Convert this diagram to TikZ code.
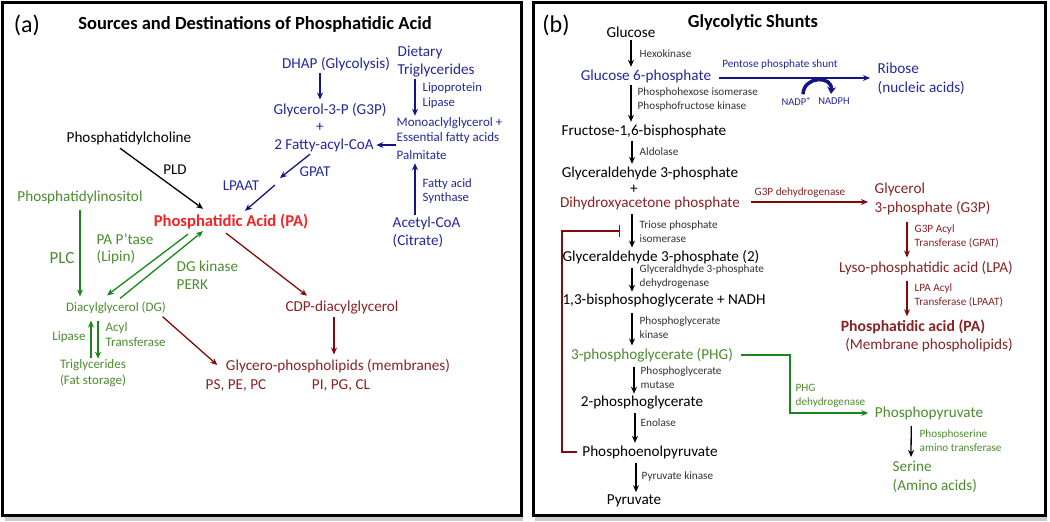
\documentclass[tikz,border=0pt]{standalone}
\usepackage{fontspec}
\setmainfont{Carlito}
\usetikzlibrary{arrows.meta,calc}
\definecolor{tblue}{RGB}{35,40,155}
\definecolor{ablue}{RGB}{20,20,135}
\definecolor{tgreen}{RGB}{75,140,45}
\definecolor{agreen}{RGB}{25,135,25}
\definecolor{tred}{RGB}{135,35,35}
\definecolor{ared}{RGB}{130,10,10}
\definecolor{pared}{RGB}{245,35,35}
\definecolor{sgray}{RGB}{50,50,50}
\tikzset{
  lab/.style={inner sep=0.5pt, font=\fontsize{15.2}{18}\selectfont, align=left},
  big/.style={inner sep=0.5pt, font=\fontsize{15.2}{19}\selectfont, align=left},
  mid/.style={inner sep=0.5pt, font=\fontsize{13}{15}\selectfont, align=left},
  sm/.style={inner sep=0.5pt, font=\fontsize{11.2}{14}\selectfont, align=left, text=sgray},
  arr/.style={-{Stealth[length=7pt,width=6pt]}, line width=1.3pt},
  panel/.style={line width=3pt}
}
\begin{document}
\begin{tikzpicture}[x=1pt,y=-1pt]
\useasboundingbox (0,0) rectangle (1050,522);
% shadows and frames
\fill[black!20] (5,517) rectangle (523,521);
\fill[black!20] (535,517) rectangle (1047,521);
\draw[panel] (2.5,2.5) rectangle (521,515.5);
\draw[panel] (533,2.5) rectangle (1045,515.5);

%%%%%%%% Panel (a)
\node[inner sep=0pt, font=\fontsize{24}{26}\selectfont] (la) at (27,25) {(a)};
\node[inner sep=0pt, font=\fontsize{18.5}{20}\selectfont\bfseries] (ta) at (255,24) {Sources and Destinations of Phosphatidic Acid};

\node[lab, text=tblue] (dhap) at (336,64) {DHAP (Glycolysis)};
\node[lab, text=tblue, anchor=west] (diet) at (397,62) {Dietary\\Triglycerides};
\node[lab, text=tblue] (g3p) at (330,110) {Glycerol-3-P (G3P)};
\node[lab, text=tblue] (plus1) at (320,127) {+};
\node[lab, text=tblue] (fac) at (324,145) {2 Fatty-acyl-CoA};
\node[mid, text=tblue, anchor=west, font=\fontsize{12.7}{15}\selectfont] (lpl) at (422,95.5) {Lipoprotein\\Lipase};
\node[mid, text=tblue, anchor=west] (mono) at (396,130.5) {Monoaclylglycerol +\\Essential fatty acids};
\node[mid, text=tblue, anchor=west] (palm) at (396,155) {Palmitate};
\node[mid, text=tblue, anchor=west, font=\fontsize{12.7}{14.5}\selectfont] (fas) at (422,191) {Fatty acid\\Synthase};
\node[lab, text=tblue, anchor=west] (acoa) at (392,232) {Acetyl-CoA\\(Citrate)};
\node[lab, text=tblue, font=\fontsize{15}{16}\selectfont] (gpat) at (315,172) {GPAT};
\node[lab, text=tblue, font=\fontsize{15}{16}\selectfont] (lpaat) at (241,186) {LPAAT};

\node[lab] (pc) at (129,138) {Phosphatidylcholine};
\node[lab, font=\fontsize{15}{16}\selectfont] (pld) at (175,170) {PLD};
\node[inner sep=0.5pt, text=pared, font=\fontsize{16.6}{18}\selectfont\bfseries] (pa) at (231,222) {Phosphatidic Acid (PA)};

\node[lab, text=tgreen] (pi) at (80,197) {Phosphatidylinositol};
\node[lab, text=tgreen, font=\fontsize{17}{18}\selectfont] (plc) at (62,258) {PLC};
\node[lab, text=tgreen, anchor=west, font=\fontsize{15.2}{17}\selectfont] (ptase) at (96,248.5) {PA P’tase\\(Lipin)};
\node[lab, text=tgreen, anchor=west, font=\fontsize{15.2}{18}\selectfont] (dgk) at (176,275) {DG kinase\\PERK};
\node[mid, text=tgreen] (dg) at (116,308) {Diacylglycerol (DG)};
\node[mid, text=tgreen] (lip) at (69,337) {Lipase};
\node[mid, text=tgreen, anchor=west] (acyl) at (105,334.5) {Acyl\\Transferase};
\node[mid, text=tgreen, align=center, font=\fontsize{13}{16}\selectfont] (tg) at (93,373) {Triglycerides\\(Fat storage)};

\node[lab, text=tred] (cdp) at (342,308) {CDP-diacylglycerol};
\node[lab, text=tred] (gpl) at (338,366) {Glycero-phospholipids (membranes)};
\node[lab, text=tred] (pspe) at (236,386) {PS, PE, PC};
\node[lab, text=tred] (pipg) at (341,386) {PI, PG, CL};

% arrows panel (a)
\draw[arr, ablue] ($(dhap.south -| plus1)+(0,2)$) -- ($(g3p.north -| plus1)+(0,-3)$);
\draw[arr, ablue] ($(diet.south west)+(18,1)$) -- ($(mono.north west)+(19,-1)$);
\draw[arr, ablue] (mono.west |- fac) -- ($(fac.east)+(2,0)$);
\draw[arr, ablue] ($(acoa.north west)+(23,-1)$) -- ($(palm.south west)+(19,3)$);
\coordinate (gp1) at (280,178);
\coordinate (gp2) at (275,185);
\draw[arr, ablue] ($(fac.south)+(-14,2)$) -- (gp1);
\draw[arr, ablue] (gp2) -- ($(pa.north)+(14,-3)$);
\draw[arr, black] ($(pc.south)+(-9,3)$) -- ($(pa.north west)+(50,-5)$);
\draw[arr, agreen] ($(pi.south)+(0,6)$) -- ($(dg.north -| pi.south)+(0,-5)$);
\draw[arr, agreen] ($(pa.south)+(-43,4)$) -- ($(dg.north)+(-9,-6)$);
\draw[arr, agreen] ($(dg.north)+(4,-3)$) -- ($(pa.south)+(-28,1)$);
\draw[arr, ared] ($(pa.south)+(-5,3)$) -- ($(cdp.north)+(-35,-5)$);
\draw[arr, ared] ($(cdp.south)+(-8,2)$) -- ($(gpl.north)+(-4,-4)$);
\draw[arr, ared] ($(dg.south east)+(-4,2)$) -- ($(gpl.west)+(-8,-1)$);
\draw[arr, agreen] ($(tg.north)+(-2,-1)$) -- ($(tg.north |- dg.south)+(-2,6)$);
\draw[arr, agreen] ($(tg.north |- dg.south)+(5,6)$) -- ($(tg.north)+(5,0)$);

%%%%%%%% Panel (b)
\node[inner sep=0pt, font=\fontsize{24}{26}\selectfont] (lb) at (556,25) {(b)};
\node[inner sep=0pt, font=\fontsize{18.4}{20}\selectfont\bfseries] (tb) at (753,22) {Glycolytic Shunts};

\node[big] (glu) at (631,32) {Glucose};
\node[big, text=tblue] (g6p) at (646,76) {Glucose 6-phosphate};
\node[big] (fbp) at (644,131) {Fructose-1,6-bisphosphate};
\node[big] (gap) at (650,173) {Glyceraldehyde 3-phosphate};
\node[big] (plus2) at (634,189) {+};
\node[big, text=tred] (dhapb) at (650,203) {Dihydroxyacetone phosphate};
\node[big] (gap2) at (661,257) {Glyceraldehyde 3-phosphate (2)};
\node[big] (bpg) at (664,301) {1,3-bisphosphoglycerate + NADH};
\node[big, text=tgreen] (pg3) at (652,355) {3-phosphoglycerate (PHG)};
\node[big] (pg2) at (642,403) {2-phosphoglycerate};
\node[big] (pep) at (650,452) {Phosphoenolpyruvate};
\node[big] (pyr) at (634,501) {Pyruvate};

\node[big, text=tblue, anchor=west] (rib) at (877,78.5) {Ribose\\(nucleic acids)};
\node[big, text=tred, anchor=west] (glyc) at (874,199) {Glycerol\\3-phosphate (G3P)};
\node[big, text=tred] (lpa) at (926,268) {Lyso-phosphatidic acid (LPA)};
\node[big, text=tred, font=\fontsize{15.7}{19}\selectfont\bfseries] (pab) at (913,327) {Phosphatidic acid (PA)};
\node[big, text=tred] (memb) at (929,345) {(Membrane phospholipids)};
\node[big, text=tgreen] (ppyr) at (929,413) {Phosphopyruvate};
\node[big, text=tgreen, anchor=west] (ser) at (892,476.5) {Serine\\(Amino acids)};

\node[sm, anchor=west] (hexo) at (639,54) {Hexokinase};
\node[sm, anchor=west] (phi) at (637,99.5) {Phosphohexose isomerase\\Phosphofructose kinase};
\node[sm, anchor=west] (aldo) at (639,152) {Aldolase};
\node[sm, anchor=west] (tpi) at (639,231.5) {Triose phosphate\\isomerase};
\node[sm, anchor=west] (gapdh) at (639,276.5) {Glyceraldhyde 3-phosphate\\dehydrogenase};
\node[sm, anchor=west] (pgk) at (639,328) {Phosphoglycerate\\kinase};
\node[sm, anchor=west] (pgm) at (640,377.5) {Phosphoglycerate\\mutase};
\node[sm, anchor=west] (eno) at (640,423) {Enolase};
\node[sm, anchor=west] (pk) at (641,477) {Pyruvate kinase};
\node[sm, text=tblue] (pps) at (780,65) {Pentose phosphate shunt};
\node[sm, text=tblue, font=\fontsize{10.5}{12}\selectfont] (nadp) at (796,101) {NADP\textsuperscript{+}};
\node[sm, text=tblue, font=\fontsize{10.5}{12}\selectfont] (nadph) at (834,101) {NADPH};
\node[sm, text=tred] (g3pdh) at (800,193) {G3P dehydrogenase};
\node[sm, text=tred, anchor=west] (gpatb) at (914,236.5) {G3P Acyl\\Transferase (GPAT)};
\node[sm, text=tred, anchor=west] (lpaatb) at (914,295) {LPA Acyl\\Transferase (LPAAT)};
\node[sm, text=tgreen, anchor=west] (phgdh) at (795,396) {PHG\\dehydrogenase};
\node[sm, text=tgreen, anchor=west] (psat) at (919,441) {Phosphoserine\\amino transferase};

% arrows panel (b)
\draw[arr] ($(glu.south)+(0,2)$) -- ($(glu.south |- g6p.north)+(0,-2)$);
\draw[arr] ($(glu.south |- g6p.south)+(0,2)$) -- ($(glu.south |- fbp.north)+(0,-2)$);
\draw[arr] ($(glu.south |- fbp.south)+(1,3)$) -- ($(glu.south |- gap.north)+(1,-2)$);
\draw[arr] ($(glu.south |- dhapb.south)+(1,4)$) -- ($(glu.south |- gap2.north)+(1,-2)$);
\draw[arr] ($(glu.south |- gap2.south)+(1,4)$) -- ($(glu.south |- bpg.north)+(1,-2)$);
\draw[arr] ($(glu.south |- bpg.south)+(1,5)$) -- ($(glu.south |- pg3.north)+(1,-2)$);
\draw[arr] ($(glu.south |- pg3.south)+(3,4)$) -- ($(glu.south |- pg2.north)+(3,-2)$);
\draw[arr] ($(glu.south |- pg2.south)+(4,3)$) -- ($(glu.south |- pep.north)+(4,-2)$);
\draw[arr] ($(glu.south |- pep.south)+(5,4)$) -- ($(glu.south |- pyr.north)+(5,-2)$);

\coordinate (s1) at ($(g6p.east)+(7,2)$);
\draw[arr, ablue, line width=1.6pt] (s1) -- ($(s1 -| rib.west)+(-7,0)$);
\draw[ablue, line width=3.5pt, -{Stealth[length=7pt,width=9pt]}] ($(nadp.north)+(7,-2)$) to[out=88, in=85, looseness=1.7] ($(nadph.north)+(-3,-3)$);

\coordinate (d1) at ($(dhapb.east)+(10,-1)$);
\draw[arr, ared] (d1) -- ($(d1 -| glyc.west)+(-6,0)$);
\coordinate (a1) at ($(glyc.south west)+(33,6)$);
\draw[arr, ared] (a1) -- ($(a1 |- lpa.north)+(0,-3)$);
\coordinate (a2) at ($(lpa.south -| a1)+(0,6)$);
\draw[arr, ared] (a2) -- ($(a2 |- pab.north)+(0,-3)$);

\coordinate (ic) at (562,231);
\coordinate (ie) at (620,231);
\draw[ared, line width=1.5pt, -{Bar[width=12pt]}] ($(pep.west)+(-5,0)$) -| (ic) -- (ie);

\draw[agreen, line width=1.5pt, -{Stealth[length=7pt,width=6pt]}] ($(pg3.east)+(7,0)$) -| ($(ppyr.west)+(-84,0)$) -- ($(ppyr.west)+(-6,0)$);
\draw[arr] ($(ppyr.south west)+(37,6)$) -- ($(ser.north west)+(19,-3)$);
\end{tikzpicture}
\end{document}
